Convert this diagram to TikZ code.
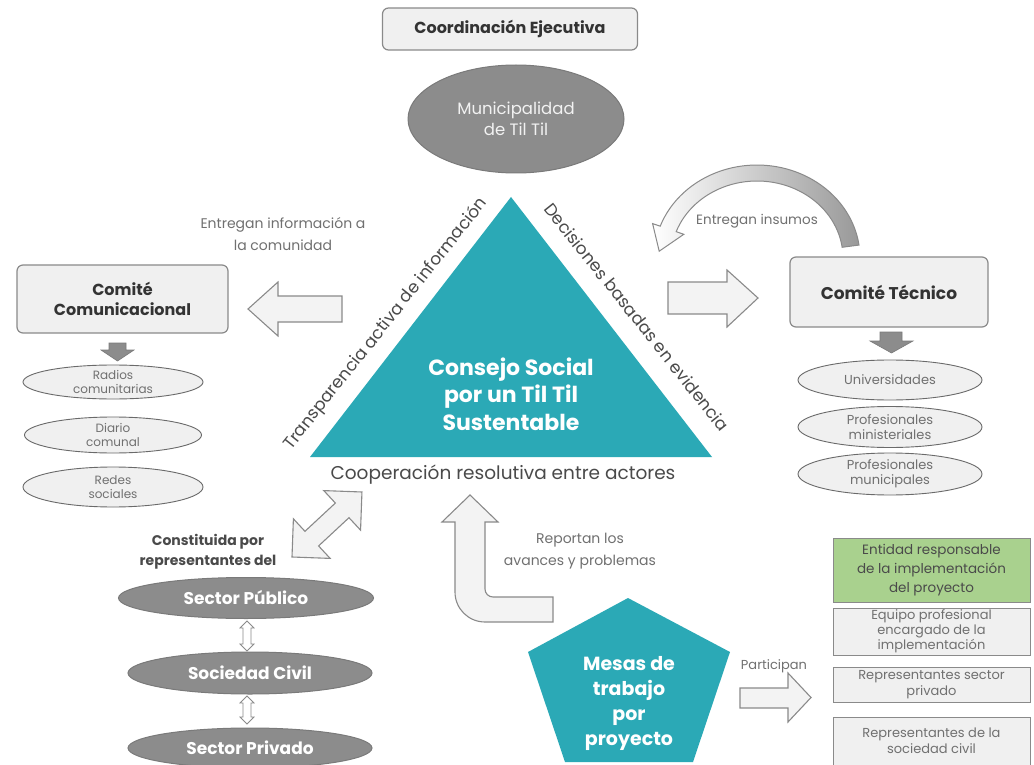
\documentclass[tikz,border=0pt]{standalone}
\usepackage{fontspec}
\setmainfont{Poppins}
\usetikzlibrary{shapes.geometric,calc}
\definecolor{tealc}{HTML}{2BA9B6}
\definecolor{gfill}{HTML}{8C8C8C}
\definecolor{gbord}{HTML}{7A7A7A}
\definecolor{lfill}{HTML}{F0F0F0}
\definecolor{afill}{HTML}{F3F3F3}
\definecolor{bord}{HTML}{8A8A8A}
\definecolor{eord}{HTML}{6A6A6A}
\definecolor{txtd}{HTML}{333333}
\definecolor{txtm}{HTML}{4A4A4A}
\definecolor{txtg}{HTML}{707070}
\definecolor{greenc}{HTML}{A9D18E}
\newcommand{\fsz}[2]{\fontsize{#1}{#2}\selectfont}
\begin{document}
\begin{tikzpicture}[x=1pt,y=-1pt,
  rbox/.style={draw=bord, fill=lfill, rounded corners=6pt, line width=1.2pt, align=center, text=txtd, inner sep=0pt},
  lell/.style={ellipse, draw=eord, fill=lfill, line width=0.9pt, inner sep=0pt, align=center, text=txtg, font=\fsz{12}{14}},
  gell/.style={ellipse, draw=gbord, fill=gfill, line width=1pt, inner sep=0pt, align=center, text=white},
  barrow/.style={draw=bord, fill=afill, line width=1.1pt, line join=miter},
  darrow/.style={draw=gbord, fill=gfill, line width=0.6pt},
  sarrow/.style={draw=bord, fill=white, line width=0.8pt},
  pbox/.style={rectangle, draw=bord, fill=lfill, line width=1pt, minimum width=197pt, inner sep=0pt, align=center, text=txtg},
  lbl/.style={align=center, text=txtg, inner sep=0pt},
  side/.style={text=txtm, inner sep=0pt, font=\fsz{17}{20}}
]
\useasboundingbox[fill=white] (0,0) rectangle (1034,765);

% top
\node[rbox, minimum width=255pt, minimum height=42pt, font=\bfseries\fsz{16}{19}] (coord) at (510,29) {Coordinación Ejecutiva};
\node[gell, minimum width=216pt, minimum height=108pt, font=\fsz{16.5}{21}, text=white!90!gray] (muni) at (516,119) {Municipalidad\\de Til Til};

% triangle
\coordinate (tA) at (511,197);
\coordinate (tR) at (712,457);
\coordinate (tL) at (310,457);
\fill[tealc] (tA) -- (tR) -- (tL) -- cycle;
\node[align=center, text=white, font=\bfseries\fsz{22}{27.5}, inner sep=0pt] (consejo) at (511,394) {Consejo Social\\por un Til Til\\Sustentable};
\node[side, rotate=51.5] (transp) at (386,324) {Transparencia activa de información};
\node[side, rotate=-51.5] (decis) at (637,317) {Decisiones basadas en evidencia};
\node[side, font=\fsz{18.5}{21}] (coop) at (503,475) {Cooperación resolutiva entre actores};

% left side
\node[lbl, font=\fsz{14}{22}] (entinfo) at (283,234) {Entregan información a\\la comunidad};
\draw[barrow] (342,296) -- (278,296) -- (278,282) -- (248,309) -- (278,336) -- (278,322) -- (342,322) -- cycle;
\node[rbox, minimum width=211pt, minimum height=68pt, font=\bfseries\fsz{16}{20}] (comcom) at (122.5,299) {Comité\\Comunicacional};
\draw[darrow] (109,343) -- (126,343) -- (126,350) -- (134,350) -- (117.5,361) -- (101,350) -- (109,350) -- cycle;
\node[lell, minimum width=180pt, minimum height=34pt] (radios) at (113,382) {Radios\\comunitarias};
\node[lell, minimum width=177pt, minimum height=36pt] (diario) at (113,435) {Diario\\comunal};
\node[lell, minimum width=180pt, minimum height=40pt] (redes) at (113,487) {Redes\\sociales};

% right side
\draw[barrow] (668,282) -- (727,282) -- (727,270) -- (758,298) -- (727,327) -- (727,314) -- (668,314) -- cycle;
\node[rbox, minimum width=198pt, minimum height=70pt, font=\bfseries\fsz{17}{20}] (comtec) at (889,292) {Comité Técnico};
\draw[darrow] (880,332) -- (902,332) -- (902,341) -- (913,341) -- (891.5,353) -- (870,341) -- (880,341) -- cycle;
\node[lell, minimum width=184pt, minimum height=40pt, font=\fsz{13}{15}] (univ) at (890,380) {Universidades};
\node[lell, minimum width=184pt, minimum height=41pt, font=\fsz{13}{15}] (pmin) at (890,427) {Profesionales\\ministeriales};
\node[lell, minimum width=184pt, minimum height=42pt, font=\fsz{13}{15}] (pmun) at (890,474) {Profesionales\\municipales};

% curved arrow
\shadedraw[left color=white, right color=gray!80, draw=bord, line width=1pt, line join=miter]
  plot[domain=8:160, samples=50, variable=\t] ({757+103*cos(\t)}, {258-93*sin(\t)})
  -- (652.6,223.6) -- (659.2,251.2) -- (683.8,234.3)
  -- plot[domain=160:8, samples=50, variable=\t] ({757+86*cos(\t)}, {258-77*sin(\t)})
  -- cycle;
\node[lbl, font=\fsz{13.5}{15}] (insumos) at (757,221) {Entregan insumos};

% double diagonal arrow
\begin{scope}[shift={(292,557)}, rotate=42.9]
\draw[barrow] (0,0) -- (27,27) -- (27,10) -- (68.5,10) -- (68.5,27) -- (95.5,0) -- (68.5,-27) -- (68.5,-10) -- (27,-10) -- (27,-27) -- cycle;
\end{scope}
\node[lbl, font=\bfseries\fsz{14}{20}, text=txtm] (const) at (208,552) {Constituida por\\representantes del};

% sectors
\node[gell, minimum width=255pt, minimum height=41pt, font=\bfseries\fsz{17}{19}] (spub) at (246,598) {Sector Público};
\node[gell, minimum width=244pt, minimum height=42pt, font=\bfseries\fsz{17}{19}] (sciv) at (250,673) {Sociedad Civil};
\node[gell, minimum width=244pt, minimum height=40pt, font=\bfseries\fsz{17}{19}] (spri) at (250,748) {Sector Privado};
\draw[sarrow] (247,621) -- (254,628) -- (251,628) -- (251,644) -- (254,644) -- (247,651) -- (240,644) -- (243,644) -- (243,628) -- (240,628) -- cycle;
\draw[sarrow] (247,696) -- (254,703) -- (251,703) -- (251,717) -- (254,717) -- (247,724) -- (240,717) -- (243,717) -- (243,703) -- (240,703) -- cycle;

% bent arrow
\draw[barrow] (470,495) -- (498,522) -- (485,522) -- (485,589) to[out=-90,in=180] (493,597) -- (553,597) -- (553,622) -- (485,622) to[out=180,in=-90] (455,592) -- (455,522) -- (442,522) -- cycle;
\node[lbl, font=\fsz{14}{22}] (report) at (580,551) {Reportan los\\avances y problemas};

% pentagon
\fill[tealc] (628,598) -- (730,652) -- (693,762) -- (565,762) -- (528,652) -- cycle;
\node[align=center, text=white, font=\bfseries\fsz{19}{25}, inner sep=0pt] (mesas) at (629,703) {Mesas de\\trabajo\\por\\proyecto};

% participan
\node[lbl, font=\fsz{13}{15}] (partic) at (774,666) {Participan};
\draw[barrow] (740,688) -- (788,688) -- (788,673) -- (811,697.5) -- (788,722) -- (788,708) -- (740,708) -- cycle;

% right boxes
\node[pbox, fill=greenc, minimum height=64pt, text=txtm, font=\fsz{13.5}{19}] (entidad) at (931.5,570) {Entidad responsable\\de la implementación\\del proyecto};
\node[pbox, minimum height=47pt, font=\fsz{13}{15}] (equipo) at (931.5,631.5) {Equipo profesional\\encargado de la\\implementación};
\node[pbox, minimum height=35pt, font=\fsz{13}{16}] (rsp) at (931.5,684.5) {Representantes sector\\privado};
\node[pbox, minimum height=48pt, font=\fsz{13}{16}] (rsc) at (931.5,741) {Representantes de la\\sociedad civil};
\end{tikzpicture}
\end{document}
